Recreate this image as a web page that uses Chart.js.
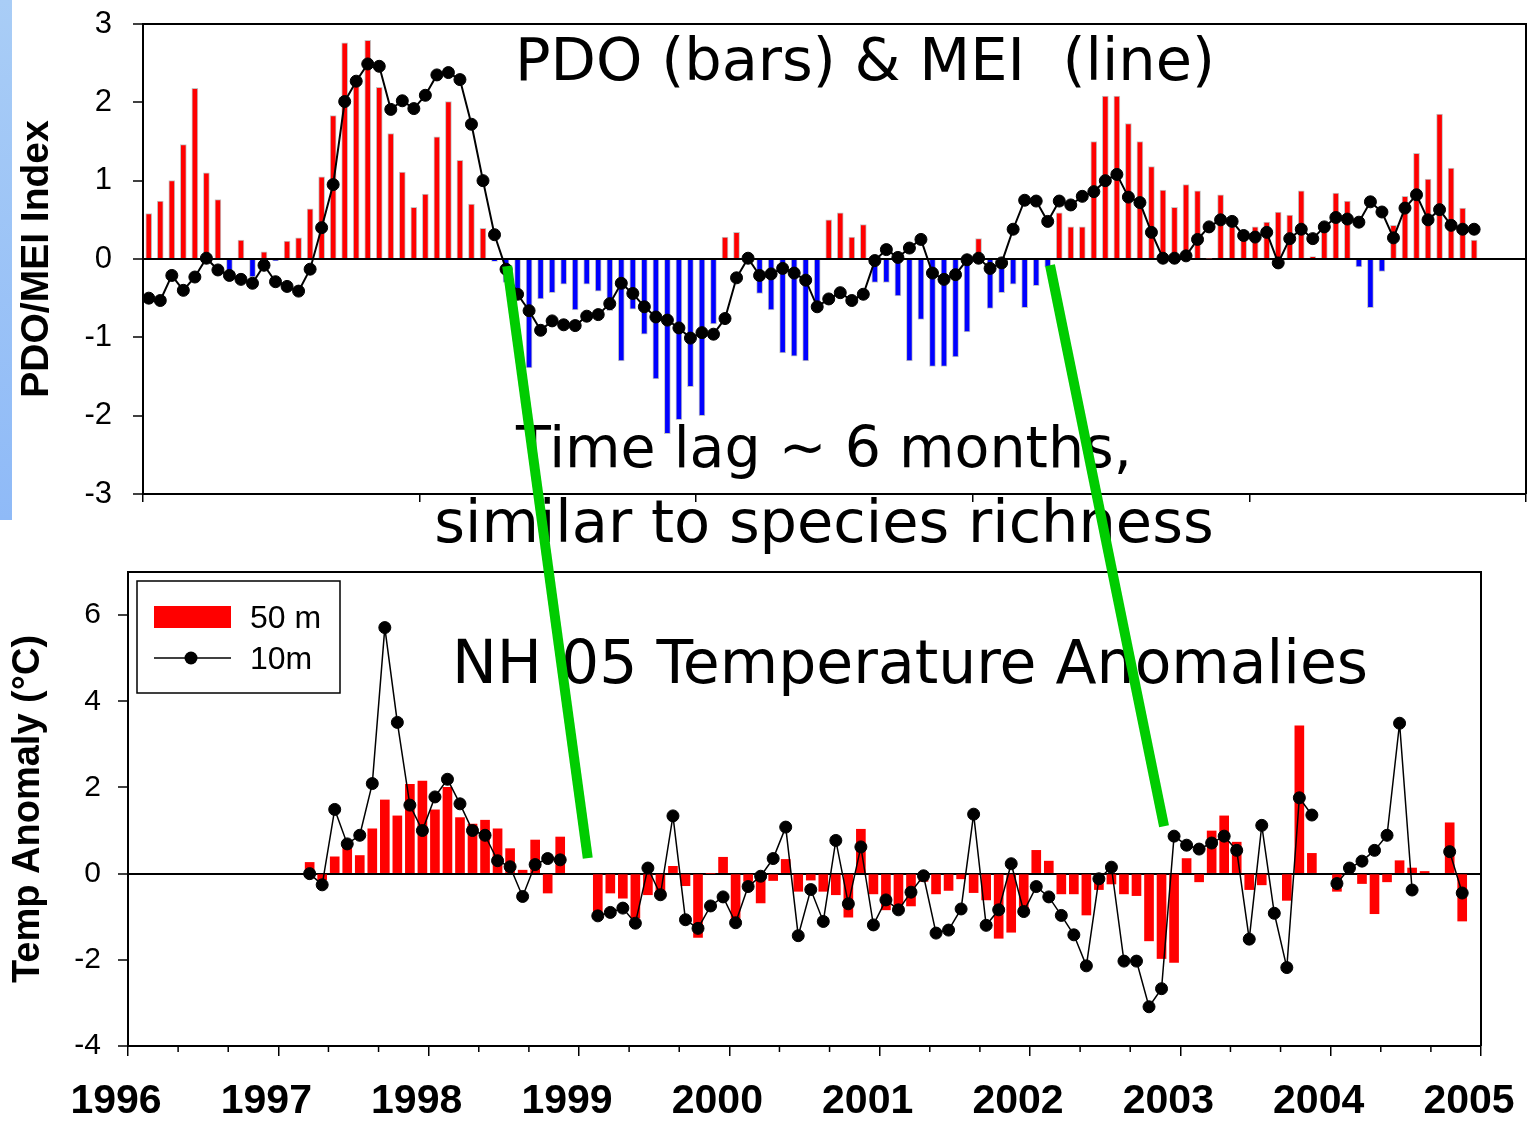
<!DOCTYPE html>
<html>
<head>
<meta charset="utf-8">
<script src="https://cdn.jsdelivr.net/npm/chart.js@4.4.0/dist/chart.umd.min.js"></script>
<style>
  html, body { margin: 0; padding: 0; background: #fff; }
  #page { position: relative; width: 1533px; height: 1123px; overflow: hidden; }
  canvas { position: absolute; left: 0; }
  #topChart { top: 0; }
  #botChart { top: 540px; }
  #overlay { top: 0; z-index: 5; pointer-events: none; }
  .strip { position: absolute; left: 0; top: 0; width: 12px; height: 520px; background: linear-gradient(#a9cdf6, #8fbaf7); }
  .lbl { position: absolute; z-index: 3; font-family: "DejaVu Sans", sans-serif; font-size: 59px; line-height: 59px;
         white-space: pre; color: #000; transform: translateX(-50%); }
</style>
</head>
<body>
<div id="page">
  <div class="strip"></div>
  <canvas id="topChart" width="1533" height="520"></canvas>
  <canvas id="botChart" width="1533" height="583"></canvas>
  <div class="lbl" style="left:865px;top:30px">PDO (bars) &amp; MEI  (line)</div>
  <div class="lbl" style="left:824px;top:418px;font-size:57px">Time lag ~ 6 months,</div>
  <div class="lbl" style="left:824px;top:492px">similar to species richness</div>
  <div class="lbl" style="left:910px;top:633px;font-size:60px">NH 05 Temperature Anomalies</div>
  <canvas id="overlay" width="1533" height="1123"></canvas>
</div>
<script>
// ── DATA ───────────────────────────────────────────
// monthly series, month 0 = Jan 1996
const pdo = [
  0.58, 0.74, 1.00, 1.46, 2.18, 1.10, 0.76, -0.17, 0.24, -0.23, 0.09, -0.02,
  0.23, 0.27, 0.64, 1.05, 1.83, 2.76, 2.25, 2.79, 2.19, 1.60, 1.11, 0.66,
  0.83, 1.56, 2.01, 1.26, 0.70, 0.39, -0.03, -0.30, -0.49, -1.39, -0.51, -0.43,
  -0.32, -0.65, -0.32, -0.41, -0.66, -1.30, -0.64, -0.96, -1.53, -2.23, -2.05, -1.63,
  -2.00, -0.83, 0.28, 0.34, -0.03, -0.44, -0.65, -1.20, -1.24, -1.30, -0.66, 0.50,
  0.59, 0.28, 0.44, -0.30, -0.30, -0.47, -1.30, -0.77, -1.37, -1.37, -1.25, -0.93,
  0.26, -0.63, -0.43, -0.32, -0.62, -0.34, -0.10, 0.59, 0.41, 0.41, 1.50, 2.08,
  2.08, 1.73, 1.50, 1.18, 0.88, 0.66, 0.95, 0.87, 0.01, 0.82, 0.41, 0.32,
  0.41, 0.47, 0.60, 0.56, 0.87, 0.03, 0.40, 0.84, 0.74, -0.10, -0.62, -0.16,
  0.43, 0.80, 1.35, 1.02, 1.85, 1.16, 0.65, 0.24
];
const mei = [
  -0.50, -0.53, -0.21, -0.40, -0.23, 0.01, -0.14, -0.21, -0.26, -0.31, -0.08, -0.29,
  -0.35, -0.41, -0.13, 0.40, 0.95, 2.01, 2.27, 2.49, 2.46, 1.91, 2.02, 1.92,
  2.09, 2.35, 2.38, 2.29, 1.72, 1.00, 0.31, -0.13, -0.45, -0.66, -0.91, -0.79,
  -0.84, -0.85, -0.73, -0.71, -0.57, -0.31, -0.44, -0.61, -0.74, -0.78, -0.88, -1.01,
  -0.94, -0.96, -0.76, -0.24, 0.01, -0.21, -0.19, -0.12, -0.18, -0.27, -0.61, -0.51,
  -0.43, -0.53, -0.45, -0.02, 0.12, 0.02, 0.14, 0.25, -0.18, -0.26, -0.20, -0.01,
  0.01, -0.12, -0.05, 0.38, 0.75, 0.74, 0.48, 0.74, 0.69, 0.80, 0.86, 1.00,
  1.08, 0.79, 0.72, 0.34, 0.01, 0.01, 0.04, 0.25, 0.41, 0.50, 0.48, 0.30,
  0.28, 0.34, -0.05, 0.26, 0.38, 0.26, 0.41, 0.53, 0.51, 0.47, 0.73, 0.60,
  0.27, 0.65, 0.82, 0.50, 0.63, 0.43, 0.38, 0.38
];

// NH 05 temperature anomalies, first value = month 14 (Mar 1997)
const tempStart = 14;
const temp50 = [
  0.26, -0.14, 0.39, 0.60, 0.42, 1.04, 1.71, 1.34, 2.07, 2.15, 1.48, 2.00,
  1.30, 1.15, 1.24, 1.04, 0.58, 0.08, 0.78, -0.45, 0.85, null, null, -1.00,
  -0.45, -0.57, -1.03, -0.49, -0.45, 0.17, -0.28, -1.48, 0.00, 0.38, -1.03, -0.18,
  -0.68, -0.16, 0.33, -0.41, -0.15, -0.41, -0.49, -1.01, 1.03, -0.47, -0.84, -0.72,
  -0.75, -0.18, -0.47, -0.39, -0.12, -0.44, -0.61, -1.50, -1.36, -0.92, 0.54, 0.29,
  -0.47, -0.47, -0.96, -0.37, -0.24, -0.47, -0.51, -1.56, -1.97, -2.06, 0.35, -0.19,
  0.99, 1.34, 0.73, -0.37, -0.26, null, -0.62, 3.43, 0.47, null, -0.41, null,
  -0.23, -0.93, -0.19, 0.30, 0.13, 0.05, null, 1.18, -1.10
];
const temp10 = [
  0.00, -0.26, 1.49, 0.69, 0.89, 2.09, 5.71, 3.51, 1.59, 1.00, 1.78, 2.19,
  1.62, 1.00, 0.89, 0.30, 0.16, -0.53, 0.21, 0.35, 0.32, null, null, -0.98,
  -0.90, -0.80, -1.15, 0.13, -0.49, 1.34, -1.07, -1.27, -0.75, -0.54, -1.14, -0.30,
  -0.06, 0.35, 1.08, -1.44, -0.37, -1.11, 0.77, -0.70, 0.62, -1.19, -0.61, -0.84,
  -0.43, -0.05, -1.38, -1.31, -0.82, 1.38, -1.20, -0.84, 0.23, -0.88, -0.30, -0.54,
  -0.97, -1.42, -2.14, -0.12, 0.15, -2.03, -2.03, -3.09, -2.67, 0.87, 0.66, 0.57,
  0.71, 0.87, 0.54, -1.52, 1.12, -0.92, -2.18, 1.76, 1.36, null, -0.23, 0.13,
  0.29, 0.54, 0.89, 3.49, -0.38, null, null, 0.51, -0.45
];

const topYears = [1996, 2006];   // top panel span, ticks every 2 years
const botYears = [1996, 2005];   // bottom panel span, labelled every year
const yearLabel = v => String(1996 + v / 12);

// green "time lag" links: [month, value] in top panel -> [month, value] in bottom panel
const lagLinks = [
  { top: [31.6, -0.09], bottom: [36.7, 0.36] },
  { top: [78.7, -0.08], bottom: [82.7, 1.10] }
];

// ── HELPERS ───────────────────────────────────────
Chart.defaults.font.family = 'Liberation Sans, Arial, sans-serif';
Chart.defaults.color = '#000';

const pts = (arr, start) => arr.map((v, i) => ({ x: start + i + 0.5, y: v }));

// pin an axis box to a fixed size and drop the label overhang padding
const fixBox = (w, h) => s => {
  if (w != null) s.width = w;
  if (h != null) s.height = h;
  s.paddingTop = 0; s.paddingBottom = 0; s.paddingLeft = 0; s.paddingRight = 0;
};

const frame = {
  id: 'frame',
  afterDraw(chart) {
    const { ctx, chartArea: a } = chart;
    ctx.save();
    ctx.strokeStyle = '#000';
    ctx.lineWidth = 2;
    ctx.beginPath();
    ctx.moveTo(a.left, a.top);
    ctx.lineTo(a.right, a.top);
    ctx.lineTo(a.right, a.bottom);
    ctx.stroke();
    ctx.restore();
  }
};

const zeroGrid = {
  drawOnChartArea: true,
  color: c => (c.tick && c.tick.value === 0 ? '#000' : 'rgba(0,0,0,0)'),
  lineWidth: 2,
  tickColor: '#000',
  tickWidth: 1.5,
  tickLength: 10
};

// ── TOP: PDO & MEI ────────────────────────────────
const topChart = new Chart(document.getElementById('topChart'), {
  data: {
    datasets: [
      { type: 'line', label: 'MEI', data: pts(mei, 0), borderColor: '#000', borderWidth: 2,
        pointRadius: 6, pointBackgroundColor: '#000', pointBorderColor: '#000', pointBorderWidth: 1, order: 0 },
      { type: 'bar', label: 'PDO', data: pts(pdo, 0),
        backgroundColor: c => (c.raw && c.raw.y < 0 ? '#0000ff' : '#ff0000'),
        borderColor: '#c4c4c4', borderWidth: 1, barThickness: 6, order: 1 }
    ]
  },
  options: {
    responsive: false, animation: false,
    layout: { padding: { top: 24, right: 2, left: 0, bottom: 0 } },
    plugins: { legend: { display: false }, tooltip: { enabled: false } },
    scales: {
      x: {
        type: 'linear', offset: false, min: 0, max: (topYears[1] - topYears[0]) * 12,
        ticks: { display: false, stepSize: 24 },
        grid: { offset: false, drawOnChartArea: false, color: '#000', lineWidth: 1.5, tickLength: 8 },
        border: { color: '#000', width: 2 },
        afterFit: fixBox(null, 26)
      },
      y: {
        min: -3, max: 3,
        ticks: { stepSize: 1, padding: 21, font: { size: 31 } },
        grid: zeroGrid,
        border: { color: '#000', width: 2 },
        title: { display: true, text: 'PDO/MEI Index', font: { size: 39, weight: 'bold' }, padding: { top: 14, bottom: 0 } },
        afterFit: fixBox(143, null)
      }
    }
  },
  plugins: [frame]
});

// ── BOTTOM: NH 05 temperature anomalies ───────────
const legendBox = {
  id: 'legendBox',
  afterDraw(chart) {
    const { ctx, chartArea: a } = chart;
    const x = a.left + 9, y = a.top + 9;
    ctx.save();
    ctx.fillStyle = '#fff';
    ctx.fillRect(x, y, 203, 112);
    ctx.strokeStyle = '#000';
    ctx.lineWidth = 1.5;
    ctx.strokeRect(x, y, 203, 112);
    ctx.fillStyle = '#ff0000';
    ctx.fillRect(x + 17, y + 25, 77, 22);
    ctx.strokeStyle = '#000';
    ctx.lineWidth = 1.5;
    ctx.beginPath();
    ctx.moveTo(x + 17, y + 77);
    ctx.lineTo(x + 94, y + 77);
    ctx.stroke();
    ctx.fillStyle = '#000';
    ctx.beginPath();
    ctx.arc(x + 54, y + 77, 6.5, 0, Math.PI * 2);
    ctx.fill();
    ctx.font = '32px "Liberation Sans", Arial, sans-serif';
    ctx.textBaseline = 'alphabetic';
    ctx.fillText('50 m', x + 113, y + 47);
    ctx.fillText('10m', x + 113, y + 88);
    ctx.restore();
  }
};

const minorTicks = {
  id: 'minorTicks',
  afterDraw(chart) {
    const { ctx } = chart;
    const sx = chart.scales.x;
    ctx.save();
    ctx.strokeStyle = '#000';
    ctx.lineWidth = 1.5;
    for (let v = sx.min; v <= sx.max; v += 4) {
      if (v % 12 === 0) continue;
      const px = sx.getPixelForValue(v);
      ctx.beginPath();
      ctx.moveTo(px, sx.top);
      ctx.lineTo(px, sx.top + 6);
      ctx.stroke();
    }
    ctx.restore();
  }
};

const botChart = new Chart(document.getElementById('botChart'), {
  data: {
    datasets: [
      { type: 'line', label: '10m', data: pts(temp10, tempStart), borderColor: '#000', borderWidth: 1.5,
        pointRadius: 6, pointBackgroundColor: '#000', pointBorderColor: '#000', pointBorderWidth: 1, order: 0 },
      { type: 'bar', label: '50 m', data: pts(temp50, tempStart), backgroundColor: '#ff0000',
        borderWidth: 0, barThickness: 9, order: 1 }
    ]
  },
  options: {
    responsive: false, animation: false,
    layout: { padding: { top: 32, right: 52, left: 0, bottom: 0 } },
    plugins: { legend: { display: false }, tooltip: { enabled: false } },
    scales: {
      x: {
        type: 'linear', offset: false, min: 0, max: (botYears[1] - botYears[0]) * 12,
        ticks: { stepSize: 12, callback: yearLabel, font: { size: 41, weight: 'bold' }, padding: 21,
                 labelOffset: -12, maxRotation: 0, autoSkip: false },
        grid: { offset: false, drawOnChartArea: false, color: '#000', lineWidth: 1.5, tickLength: 10 },
        border: { color: '#000', width: 2 },
        afterFit: fixBox(null, 77)
      },
      y: {
        min: -4, max: 7,
        ticks: { stepSize: 2, includeBounds: false, padding: 17, font: { size: 30 } },
        grid: zeroGrid,
        border: { color: '#000', width: 2 },
        title: { display: true, text: 'Temp Anomaly (°C)', font: { size: 38, weight: 'bold' }, padding: { top: 6, bottom: 0 } },
        afterFit: fixBox(128, null)
      }
    }
  },
  plugins: [frame, minorTicks, legendBox]
});

// ── GREEN LAG LINKS (through both charts' scales) ─
(function drawLinks() {
  const ov = document.getElementById('overlay').getContext('2d');
  const offTop = document.getElementById('topChart').offsetTop;
  const offBot = document.getElementById('botChart').offsetTop;
  ov.strokeStyle = '#00cc00';
  ov.lineWidth = 10;
  ov.lineCap = 'butt';
  lagLinks.forEach(l => {
    const x1 = topChart.scales.x.getPixelForValue(l.top[0]);
    const y1 = topChart.scales.y.getPixelForValue(l.top[1]) + offTop;
    const x2 = botChart.scales.x.getPixelForValue(l.bottom[0]);
    const y2 = botChart.scales.y.getPixelForValue(l.bottom[1]) + offBot;
    ov.beginPath();
    ov.moveTo(x1, y1);
    ov.lineTo(x2, y2);
    ov.stroke();
  });
})();
</script>
</body>
</html>
